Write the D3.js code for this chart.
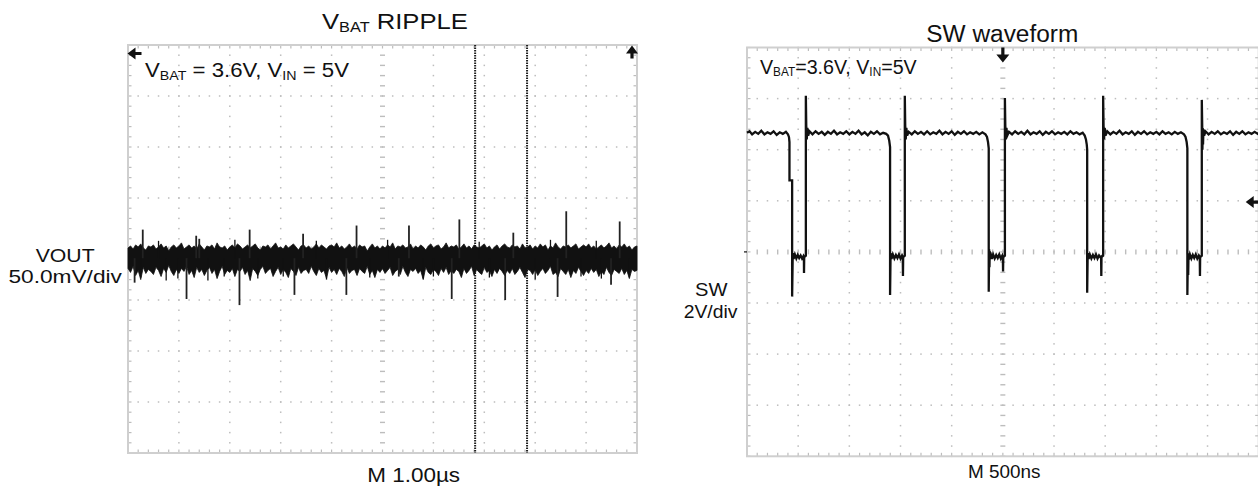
<!DOCTYPE html>
<html><head><meta charset="utf-8">
<script src="https://cdn.jsdelivr.net/npm/d3@7"></script>
<style>
html,body{margin:0;padding:0;background:#fff;}
svg{display:block;}
text{font-family:"Liberation Sans",Arial,Helvetica,sans-serif;fill:#111;}
</style>
</head><body>
<svg id="c" width="1258" height="489"></svg>
<script>
// ---------------- DATA ----------------
// Left panel: VBAT ripple, time in µs (1 µs/div), VOUT in mV (50 mV/div)
const rippleTimeRange = [0, 10];
const rippleMvRange = [-200, 200];
const rippleStep = 0.05; // µs between envelope samples
const rippleBaseline = -9; // mV, centre of the noise band
const rippleUpper = [
 1,3,0,4,2,5,1,-1,3,2, 4,0,2,5,1,3,-2,2,4,1, 3,6,0,2,4,1,3,0,5,2, -1,3,2,4,0,6,2,1,3,-1,
 2,4,1,5,3,0,2,4,1,3, 5,1,-1,3,2,4,0,3,6,1, 2,0,4,1,3,5,2,-1,3,4, 1,3,0,2,5,1,4,2,0,3,
 4,2,6,1,3,0,2,5,1,3, 0,4,2,3,-2,2,5,1,3,0, 3,1,4,2,6,0,3,2,4,1, 2,5,0,3,1,4,2,-1,3,5,
 1,3,4,0,2,6,1,3,2,4, 0,2,5,1,3,0,4,2,1,3, 5,1,3,-1,2,4,0,3,5,2, 1,4,2,3,0,5,1,2,4,0,
 3,1,5,2,4,-1,3,1,6,2, 0,3,2,4,1,3,5,0,2,4, 2,5,1,3,0,2,4,1,3,6, 1,3,0,4,2,5,1,3,-1,2,
 3];
const rippleLower = [
 -19,-23,-17,-26,-21,-30,-18,-24,-20,-22, -25,-18,-21,-27,-19,-23,-16,-22,-26,-20,
 -24,-19,-22,-17,-25,-21,-28,-18,-23,-20, -26,-21,-18,-24,-20,-29,-22,-17,-25,-21,
 -23,-19,-27,-20,-22,-18,-25,-21,-31,-19, -22,-26,-20,-17,-24,-21,-19,-27,-22,-18,
 -25,-20,-23,-28,-19,-22,-26,-18,-24,-21, -20,-24,-17,-22,-26,-19,-23,-21,-29,-18,
 -23,-20,-25,-19,-22,-27,-18,-24,-21,-20, -26,-19,-22,-24,-17,-25,-21,-28,-20,-23,
 -19,-24,-21,-18,-26,-22,-20,-25,-17,-23, -27,-20,-22,-19,-24,-21,-30,-18,-23,-25,
 -20,-22,-26,-19,-23,-18,-25,-21,-24,-20, -22,-28,-19,-24,-21,-17,-26,-20,-23,-25,
 -18,-23,-21,-27,-20,-24,-19,-22,-26,-21, -24,-19,-25,-22,-18,-23,-28,-20,-21,-25,
 -20,-26,-22,-19,-24,-21,-17,-25,-23,-27, -19,-22,-25,-20,-28,-21,-24,-18,-22,-26,
 -21,-24,-19,-23,-20,-27,-22,-25,-18,-23, -26,-20,-22,-24,-19,-25,-21,-29,-20,-22,
 -21];
const rippleUpSpikes = [[0.29,19],[1.34,13],[1.40,10],[2.39,19],[3.44,15],[4.49,23],[5.52,23],[6.51,29],[7.57,16],[8.61,37],[9.66,27]];
const rippleDownSpikes = [[0.13,-33],[1.15,-49],[2.19,-55],[3.27,-45],[4.29,-45],[5.32,-27],[6.36,-49],[7.41,-50],[8.44,-47],[9.49,-35]];
const rippleHairs = [[0.25,-28],[0.75,-31],[0.98,-29],[1.57,-31],[1.89,-27],[2.55,-29],[3.05,-27],[3.9,-30],[4.75,-28],[5.8,-29],[6.0,-27],[7.1,-28],[8.0,-30],[8.9,-27],[9.3,-29],[9.85,-28],[0.6,8],[2.1,9],[3.7,8],[5.1,9],[6.9,7],[8.3,9],[9.2,8]];
const rippleCursors = [6.82, 7.84]; // µs

// Right panel: SW waveform, time in ns (500 ns/div), SW in V (2 V/div)
const swTimeRange = [0, 5000];
const swVoltRange = [-8, 8];
const swTriggerTime = 2500;
const swTriggerLevel = 1.95;
const swTrace = [
 [0,4.66],[25,4.72],[50,4.6],[80,4.7],[110,4.62],[140,4.74],[170,4.6],[200,4.68],[230,4.62],[260,4.72],[290,4.58],[320,4.68],[350,4.62],[380,4.7],[400,4.6],[410,4.5],
 [415,4.3],[415,2.8],[441,2.8],[441,-1.75],[447,-0.05],[455,-0.28],[468,-0.1],[482,-0.26],[496,-0.12],[510,-0.24],[524,-0.14],[538,-0.26],[552,-0.16],[556,-0.2],[557,-0.83],[559,-0.2],[575,-0.15],
 [575,6.11],[579,4.95],[584,4.4],[590,4.85],[598,4.55],[610,4.72],[640,4.6],[670,4.72],[700,4.62],[730,4.7],[760,4.58],[790,4.7],[820,4.62],[850,4.74],[880,4.6],[910,4.68],[940,4.62],[970,4.72],[1000,4.6],[1030,4.7],[1060,4.62],[1090,4.74],[1120,4.6],[1150,4.68],[1180,4.56],[1210,4.7],[1240,4.62],[1270,4.72],[1300,4.6],[1330,4.66],[1360,4.62],[1378,4.55],[1390,4.35],[1398,4.1],
 [1398,-1.69],[1403,-0.05],[1412,-0.28],[1425,-0.1],[1440,-0.26],[1455,-0.12],[1470,-0.24],[1485,-0.1],[1500,-0.26],[1515,-0.14],[1522,-0.2],[1524,-0.94],[1526,-0.2],[1542,-0.15],
 [1542,6.11],[1546,4.95],[1551,4.4],[1557,4.85],[1565,4.55],[1580,4.7],[1610,4.6],[1640,4.72],[1670,4.62],[1700,4.7],[1730,4.6],[1760,4.72],[1790,4.6],[1820,4.68],[1850,4.62],[1880,4.74],[1910,4.6],[1940,4.7],[1970,4.62],[2000,4.72],[2030,4.58],[2060,4.7],[2090,4.62],[2120,4.72],[2150,4.6],[2180,4.68],[2210,4.62],[2240,4.7],[2270,4.6],[2300,4.68],[2330,4.6],[2345,4.5],[2355,4.3],[2362,4.05],
 [2362,-1.56],[2366,0.1],[2369,-0.6],[2372,0.0],[2380,-0.05],[2392,-0.28],[2405,-0.1],[2420,-0.26],[2435,-0.12],[2450,-0.24],[2465,-0.1],[2480,-0.26],[2495,-0.14],[2500,-0.2],[2502,-0.77],[2504,-0.2],[2520,-0.15],
 [2520,6.02],[2524,4.95],[2529,4.4],[2535,4.85],[2543,4.55],[2560,4.7],[2590,4.6],[2620,4.72],[2650,4.62],[2680,4.7],[2710,4.6],[2740,4.74],[2770,4.6],[2800,4.68],[2830,4.62],[2860,4.72],[2890,4.58],[2920,4.7],[2950,4.62],[2980,4.72],[3010,4.6],[3040,4.68],[3070,4.62],[3100,4.7],[3130,4.6],[3160,4.72],[3190,4.62],[3220,4.68],[3250,4.6],[3280,4.66],[3300,4.55],[3312,4.4],[3320,4.2],[3324,4.0],
 [3324,-1.6],[3329,-0.05],[3338,-0.28],[3350,-0.1],[3365,-0.26],[3380,-0.12],[3395,-0.24],[3410,-0.1],[3425,-0.26],[3440,-0.14],[3455,-0.22],[3460,-0.2],[3462,-0.94],[3464,-0.2],[3480,-0.15],
 [3480,6.11],[3484,4.95],[3489,4.4],[3495,4.85],[3503,4.55],[3520,4.72],[3550,4.6],[3580,4.7],[3610,4.62],[3640,4.74],[3670,4.6],[3700,4.68],[3730,4.62],[3760,4.72],[3790,4.58],[3820,4.7],[3850,4.62],[3880,4.72],[3910,4.6],[3940,4.68],[3970,4.62],[4000,4.7],[4030,4.6],[4060,4.72],[4090,4.62],[4120,4.68],[4150,4.6],[4180,4.7],[4210,4.62],[4240,4.68],[4270,4.6],[4285,4.5],[4296,4.3],[4303,4.05],
 [4303,-1.69],[4308,-0.05],[4311,-0.9],[4314,-0.1],[4318,-0.3],[4328,-0.1],[4342,-0.26],[4356,-0.12],[4370,-0.24],[4385,-0.1],[4400,-0.26],[4415,-0.14],[4424,-0.2],[4426,-0.94],[4428,-0.2],[4444,-0.15],
 [4444,5.95],[4448,4.95],[4450,4.0],[4453,4.85],[4456,4.2],[4460,4.8],[4467,4.55],[4480,4.72],[4510,4.6],[4540,4.7],[4570,4.62],[4600,4.72],[4630,4.6],[4660,4.68],[4690,4.62],[4720,4.72],[4750,4.58],[4780,4.7],[4810,4.62],[4840,4.72],[4870,4.6],[4900,4.68],[4930,4.62],[4960,4.7],[4990,4.62],[5000,4.66]
];

// ---------------- DRAWING ----------------
const svg = d3.select('#c');
const GRID = '#bdbdbd', BORDER = '#cfcfcf', INK = '#111';

const xL = d3.scaleLinear().domain(rippleTimeRange).range([128, 637]);
const yL = d3.scaleLinear().domain(rippleMvRange).range([453, 45]);
const xR = d3.scaleLinear().domain(swTimeRange).range([747, 1258.7]);
const yR = d3.scaleLinear().domain(swVoltRange).range([456.3, 47.5]);

function graticule(x, y) {
  const g = svg.append('g');
  const [x0, x1] = x.domain(), [y0, y1] = y.domain();
  const xMaj = x.ticks(10), yMaj = y.ticks(8);
  const xStep = (xMaj[1] - xMaj[0]) / 5, yStep = (yMaj[1] - yMaj[0]) / 5;
  const xMin = d3.range(0, 51).map(i => x0 + i * xStep);
  const yMin = d3.range(0, 41).map(i => y0 + i * yStep);
  const xc = (x0 + x1) / 2, yc = (y0 + y1) / 2;
  xMaj.filter(v => v !== x0 && v !== x1 && Math.abs(v - xc) > 1e-9).forEach(v => {
    g.selectAll(null).data(yMin).enter().append('rect')
      .attr('x', x(v) - 0.75).attr('y', d => y(d) - 0.75).attr('width', 1.5).attr('height', 1.5).attr('fill', GRID);
  });
  yMaj.filter(v => v !== y0 && v !== y1 && Math.abs(v - yc) > 1e-9).forEach(v => {
    g.selectAll(null).data(xMin).enter().append('rect')
      .attr('x', d => x(d) - 0.75).attr('y', y(v) - 0.75).attr('width', 1.5).attr('height', 1.5).attr('fill', GRID);
  });
  g.selectAll(null).data(yMin).enter().append('line')
    .attr('x1', x(xc) - 2.5).attr('x2', x(xc) + 2.5).attr('y1', d => y(d)).attr('y2', d => y(d))
    .attr('stroke', GRID).attr('stroke-width', 1.4);
  g.selectAll(null).data(xMin).enter().append('line')
    .attr('y1', y(yc) - 2.5).attr('y2', y(yc) + 2.5).attr('x1', d => x(d)).attr('x2', d => x(d))
    .attr('stroke', GRID).attr('stroke-width', 1.4);
  const tk = 3.5;
  g.selectAll(null).data(xMin).enter().append('line')
    .attr('x1', d => x(d)).attr('x2', d => x(d)).attr('y1', y(y1)).attr('y2', y(y1) + tk)
    .attr('stroke', GRID).attr('stroke-width', 1.2);
  g.selectAll(null).data(xMin).enter().append('line')
    .attr('x1', d => x(d)).attr('x2', d => x(d)).attr('y1', y(y0)).attr('y2', y(y0) - tk)
    .attr('stroke', GRID).attr('stroke-width', 1.2);
  g.selectAll(null).data(yMin).enter().append('line')
    .attr('y1', d => y(d)).attr('y2', d => y(d)).attr('x1', x(x0)).attr('x2', x(x0) + tk)
    .attr('stroke', GRID).attr('stroke-width', 1.2);
  g.selectAll(null).data(yMin).enter().append('line')
    .attr('y1', d => y(d)).attr('y2', d => y(d)).attr('x1', x(x1)).attr('x2', x(x1) - tk)
    .attr('stroke', GRID).attr('stroke-width', 1.2);
  g.append('rect').attr('x', x(x0)).attr('y', y(y1)).attr('width', x(x1) - x(x0)).attr('height', y(y0) - y(y1))
    .attr('fill', 'none').attr('stroke', BORDER).attr('stroke-width', 2);
  return g;
}

graticule(xL, yL);
graticule(xR, yR);

svg.selectAll(null).data(rippleCursors).enter().append('line')
  .attr('x1', d => xL(d)).attr('x2', d => xL(d)).attr('y1', yL(rippleMvRange[1])).attr('y2', yL(rippleMvRange[0]))
  .attr('stroke', '#1c1c1c').attr('stroke-width', 2).attr('stroke-dasharray', '1.5,1');

const band = rippleUpper.map((u, i) => ({t: i * rippleStep, u, l: rippleLower[i]}));
svg.append('path').datum(band)
  .attr('d', d3.area().x(d => xL(d.t)).y0(d => yL(d.l)).y1(d => yL(d.u)))
  .attr('fill', INK).attr('stroke', INK).attr('stroke-width', 0.8);
svg.selectAll(null).data(rippleUpSpikes.concat(rippleDownSpikes)).enter().append('line')
  .attr('x1', d => xL(d[0])).attr('x2', d => xL(d[0])).attr('y1', yL(rippleBaseline)).attr('y2', d => yL(d[1]))
  .attr('stroke', '#222').attr('stroke-width', 1.8);
svg.selectAll(null).data(rippleHairs).enter().append('line')
  .attr('x1', d => xL(d[0])).attr('x2', d => xL(d[0])).attr('y1', yL(rippleBaseline)).attr('y2', d => yL(d[1]))
  .attr('stroke', INK).attr('stroke-width', 1.3);

svg.append('path').datum(swTrace)
  .attr('d', d3.line().x(d => xR(d[0])).y(d => yR(d[1])))
  .attr('fill', 'none').attr('stroke', INK).attr('stroke-width', 2.3).attr('stroke-linejoin', 'miter');

function arrow(cx, cy, dir, len, head, hw) {
  const s = 1.6;
  let p;
  if (dir === 'left') p = `M${cx},${cy} L${cx + head},${cy - hw} L${cx + head},${cy - s} L${cx + len},${cy - s} L${cx + len},${cy + s} L${cx + head},${cy + s} L${cx + head},${cy + hw} Z`;
  if (dir === 'up') p = `M${cx},${cy} L${cx - hw},${cy + head} L${cx - s},${cy + head} L${cx - s},${cy + len} L${cx + s},${cy + len} L${cx + s},${cy + head} L${cx + hw},${cy + head} Z`;
  if (dir === 'down') p = `M${cx},${cy} L${cx - hw},${cy - head} L${cx - s},${cy - head} L${cx - s},${cy - len} L${cx + s},${cy - len} L${cx + s},${cy - head} L${cx + hw},${cy - head} Z`;
  svg.append('path').attr('d', p).attr('fill', INK);
}
arrow(xL(rippleTimeRange[0]) - 0.5, yL(rippleMvRange[1]) + 8.5, 'left', 14, 8, 6);
arrow(xL(rippleTimeRange[1]) - 5, yL(rippleMvRange[1]) + 0.5, 'up', 13, 8, 6);
arrow(xR(swTriggerTime), yR(swVoltRange[1]) + 15, 'down', 15, 8, 6.5);
arrow(xR(swTimeRange[1]) - 13, yR(swTriggerLevel), 'left', 13, 8, 6);
svg.append('line').attr('x1', xR(0) - 3).attr('x2', xR(0)).attr('y1', yR(0)).attr('y2', yR(0)).attr('stroke', INK).attr('stroke-width', 1.2);

function label(x, baseline, parts, size, subSize, subDy, targetW, anchor) {
  const g = svg.append('g');
  const t = g.append('text').attr('font-size', size);
  let inSub = false;
  parts.forEach(([s, sub]) => {
    const ts = t.append('tspan').text(s);
    if (sub && !inSub) { ts.attr('font-size', subSize).attr('dy', subDy); inSub = true; }
    else if (!sub && inSub) { ts.attr('dy', -subDy); inSub = false; }
  });
  const w = t.node().getBBox().width;
  const k = targetW / w;
  let left = x;
  if (anchor === 'middle') left = x - targetW / 2;
  if (anchor === 'end') left = x - targetW;
  g.attr('transform', `translate(${left},${baseline}) scale(${k},1)`);
}

label(322, 29.3, [['V'], ['BAT', true], [' RIPPLE']], 22, 14, 2.6, 146, 'start');
label(145, 77.3, [['V'], ['BAT', true], [' = 3.6V, V'], ['IN', true], [' = 5V']], 19.5, 12.5, 2.7, 204, 'start');
label(65.2, 261.7, [['VOUT']], 18.5, 0, 0, 59, 'middle');
label(65.2, 283.3, [['50.0mV/div']], 18, 0, 0, 113.6, 'middle');
label(413.7, 481.7, [['M 1.00µs']], 20, 0, 0, 93, 'middle');

label(1002.3, 41.7, [['SW waveform']], 23, 0, 0, 152, 'middle');
label(760, 74, [['V'], ['BAT', true], ['=3.6V, V'], ['IN', true], ['=5V']], 20, 12, 2.2, 157.4, 'start');
label(711.6, 296, [['SW']], 18.5, 0, 0, 33, 'middle');
label(711, 318.3, [['2V/div']], 18.5, 0, 0, 54.6, 'middle');
label(1004.3, 478.3, [['M 500ns']], 18, 0, 0, 72.6, 'middle');
</script>
</body></html>
